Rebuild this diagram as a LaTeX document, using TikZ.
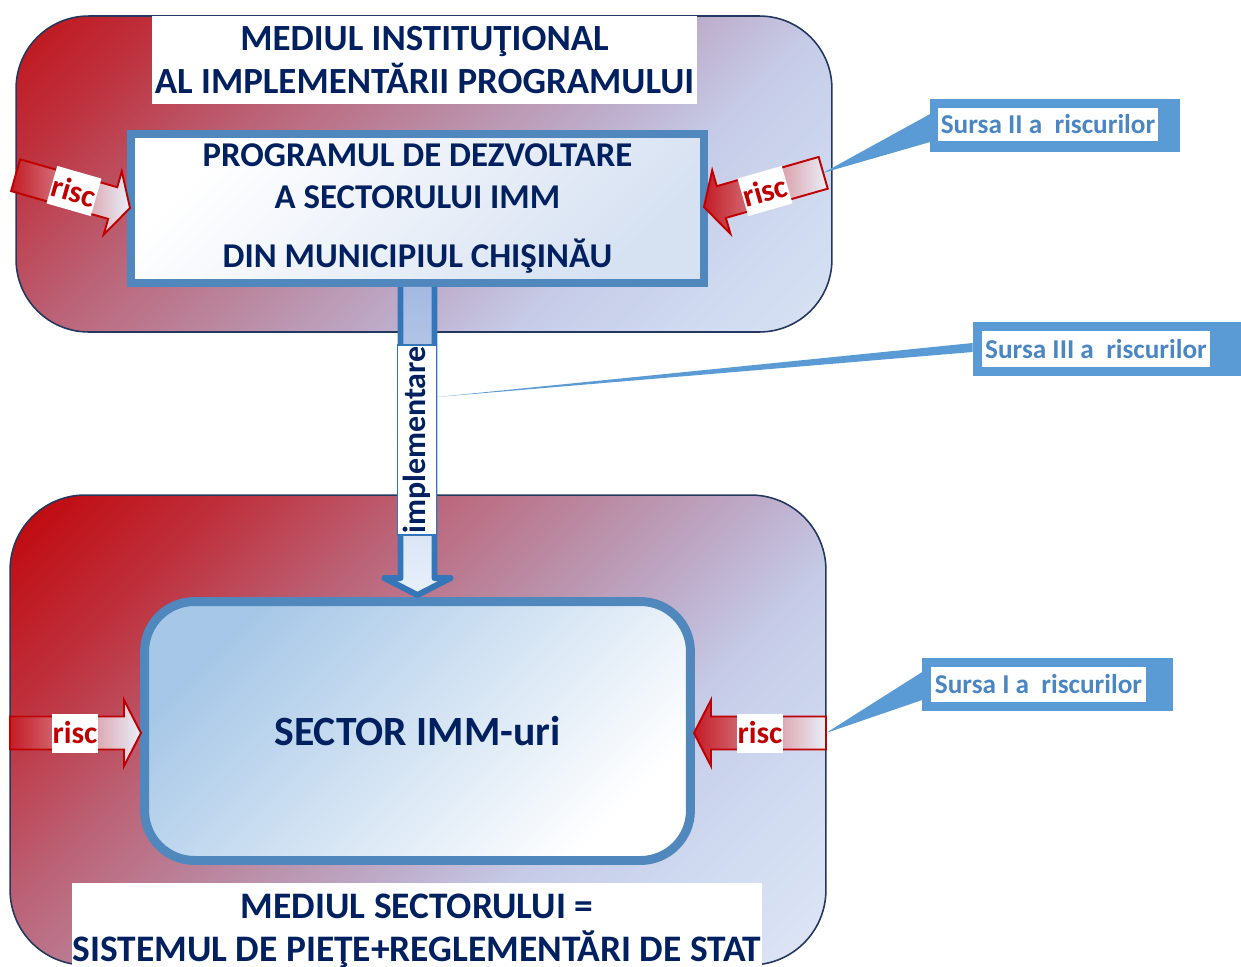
\documentclass[tikz,border=0pt]{standalone}
\usepackage{fontspec}
\setmainfont{Carlito}
\usetikzlibrary{calc}

\definecolor{navy}{RGB}{0,32,96}
\definecolor{envA}{RGB}{192,12,18}
\definecolor{envB}{RGB}{190,50,62}
\definecolor{envC}{RGB}{187,98,118}
\definecolor{envD}{RGB}{186,138,162}
\definecolor{envE}{RGB}{189,172,202}
\definecolor{envF}{RGB}{198,204,232}
\definecolor{envG}{RGB}{208,219,241}
\definecolor{envH}{RGB}{226,233,246}
\definecolor{edgenavy}{RGB}{35,55,95}
\definecolor{frameblue}{RGB}{80,136,190}
\definecolor{implblue}{RGB}{52,118,184}
\definecolor{impltop}{RGB}{165,185,225}
\definecolor{progblue}{RGB}{214,225,242}
\definecolor{sectblue}{RGB}{166,199,231}
\definecolor{callblue}{RGB}{91,155,213}
\definecolor{calltext}{RGB}{74,134,196}
\definecolor{riscred}{RGB}{192,0,0}
\definecolor{riscdark}{RGB}{196,28,38}
\definecolor{risclight}{RGB}{232,240,250}

% diagonal red -> mauve -> light blue fill of the two environments
\pgfdeclarehorizontalshading{envshade}{100bp}{color(0bp)=(envA);
  color(24bp)=(envA); color(32bp)=(envB); color(40bp)=(envC);
  color(48bp)=(envD); color(55bp)=(envE); color(61bp)=(envF);
  color(69bp)=(envG); color(80bp)=(envH); color(100bp)=(envH)}

\tikzset{
  envbox/.style={draw=edgenavy, line width=0.9pt, inner sep=0pt,
    path picture={\shade[shading=envshade, shading angle=-45]
      ($(path picture bounding box.center)+(-408,-408)$) rectangle
      ($(path picture bounding box.center)+(408,408)$);}},
  titlebox/.style={fill=white, inner sep=0pt, align=center, text=navy,
    font=\fontsize{21}{24}\selectfont\bfseries},
  progbox/.style={draw=frameblue, line width=4.5pt, left color=white,
    right color=progblue, shading angle=45, inner sep=0pt, align=center,
    text=navy, font=\fontsize{19.8}{23.9}\selectfont\bfseries},
  sectbox/.style={draw=frameblue, line width=5.1pt, rounded corners=1cm,
    left color=sectblue, right color=white, shading angle=45, text=navy,
    font=\fontsize{23.7}{28}\selectfont\bfseries},
  implarrow/.style={draw=implblue, line width=3.4pt, line join=round,
    top color=impltop, bottom color=risclight},
  impllabel/.style={fill=white, draw=implblue, line width=0.6pt, rotate=90,
    inner sep=0pt, minimum width=3.8cm, minimum height=0.78cm, text=navy,
    font=\fontsize{18.2}{18}\selectfont\bfseries},
  riscarrow/.style={draw=riscred, line width=1.1pt, line join=miter,
    left color=riscdark, right color=risclight},
  risclabel/.style={fill=white, inner sep=0pt, minimum width=0.92cm,
    minimum height=0.78cm, text=riscred,
    font=\fontsize{18}{18}\selectfont\bfseries},
  callframe/.style={fill=callblue, inner sep=0pt},
  calllabel/.style={fill=white, inner sep=0pt, text=calltext,
    font=\fontsize{15.5}{16}\selectfont\bfseries},
}

\begin{document}
\begin{tikzpicture}[x=0.02cm, y=-0.02cm]
\useasboundingbox (0,0) rectangle (1241,967);
\clip (0,0) rectangle (1241,967);

% the two environments
\node[envbox, rounded corners=1.45cm, minimum width=16.32cm,
  minimum height=6.32cm] (topenv) at (424,174) {};
\node[envbox, rounded corners=1.5cm, minimum width=16.32cm,
  minimum height=9.4cm] (botenv) at (418,730) {};

% institutional environment: heading and programme
\node[titlebox, minimum width=10.9cm, minimum height=1.76cm] (title1)
  at (424.5,60) {MEDIUL INSTITUŢIONAL\\AL IMPLEMENTĂRII PROGRAMULUI};
\node[progbox, minimum width=11.46cm, minimum height=2.98cm] (prog)
  at (417.5,208.5)
  {PROGRAMUL DE DEZVOLTARE\\A SECTORULUI IMM\\[10.2pt]DIN MUNICIPIUL CHIŞINĂU};

% sector and its environment heading
\node[sectbox, minimum width=10.92cm, minimum height=5.18cm] (sector)
  at (417.5,731) {SECTOR IMM-uri};
\node[titlebox, anchor=north, minimum width=13.8cm, minimum height=1.9cm,
  font=\fontsize{21.3}{24.5}\selectfont\bfseries]
  (title2) at (417,883)
  {MEDIUL SECTORULUI =\\SISTEMUL DE PIEŢE+REGLEMENTĂRI DE STAT};

% implementation arrow from the programme down to the sector
\coordinate (ia) at (prog.south);
\coordinate (it) at ($(sector.north)+(0,-2)$);
\draw[implarrow] ($(ia)+(-17,0)$) -- ($(it)+(-17,-17)$) -- ($(it)+(-33,-17)$)
  -- (it) -- ($(it)+(33,-17)$) -- ($(it)+(17,-17)$) -- ($(ia)+(17,0)$);
\node[impllabel] (impl) at (417,440) {implementare};

% risk arrows
\begin{scope}[shift={(130,208)}, rotate=-16]
  \draw[riscarrow] (0,0) -- (-18,-33) -- (-18,-16.5) -- (-119,-16.5)
    -- (-119,16.5) -- (-18,16.5) -- (-18,33) -- cycle;
\end{scope}
\node[risclabel, rotate=-16] (riscA) at (74,191) {risc};

\begin{scope}[shift={(704,207)}, rotate=16]
  \draw[riscarrow] (0,0) -- (18,-33) -- (18,-16.5) -- (124,-16.5)
    -- (124,16.5) -- (18,16.5) -- (18,33) -- cycle;
  \coordinate (tailB) at (124,0);
\end{scope}
\node[risclabel, rotate=16] (riscB) at (765,191) {risc};

\begin{scope}[shift={(141,733)}]
  \draw[riscarrow] (0,0) -- (-17,-33) -- (-17,-16.5) -- (-131,-16.5)
    -- (-131,16.5) -- (-17,16.5) -- (-17,33) -- cycle;
\end{scope}
\node[risclabel] (riscC) at (75,733) {risc};

\begin{scope}[shift={(694,733)}]
  \draw[riscarrow] (0,0) -- (17,-33) -- (17,-16.5) -- (132,-16.5)
    -- (132,16.5) -- (17,16.5) -- (17,33) -- cycle;
  \coordinate (tailD) at (132,0);
\end{scope}
\node[risclabel] (riscD) at (760,733) {risc};

% sources of risk (callouts)
\node[callframe, minimum width=5cm, minimum height=1.06cm] (srcIIbox)
  at (1055,125.5) {};
\fill[callblue] (tailB) -- ($(srcIIbox.west)+(0.5,-11.5)$)
  -- ($(srcIIbox.west)+(0.5,16.5)$) -- cycle;
\node[calllabel, minimum width=4.4cm, minimum height=0.66cm] (srcII)
  at (1048,124.5) {Sursa II a\ \ riscurilor};

\coordinate (p3) at ($(impl.south)+(0,-43)$);
\node[callframe, minimum width=5.5cm, minimum height=1.08cm] (srcIIIbox)
  at (1110,349) {};
\fill[callblue] (p3) -- ($(srcIIIbox.west)+(0.5,-6)$)
  -- ($(srcIIIbox.west)+(0.5,3)$) -- cycle;
\node[calllabel, minimum width=4.56cm, minimum height=0.72cm] (srcIII)
  at (1096,349) {Sursa III a\ \ riscurilor};

\node[callframe, minimum width=5.02cm, minimum height=1.06cm] (srcIbox)
  at (1047.5,684.5) {};
\fill[callblue] (tailD) -- ($(srcIbox.west)+(0.5,-12.5)$)
  -- ($(srcIbox.west)+(0.5,15.5)$) -- cycle;
\node[calllabel, minimum width=4.3cm, minimum height=0.7cm] (srcI)
  at (1038.5,684.5) {Sursa I a\ \ riscurilor};
\end{tikzpicture}
\end{document}
